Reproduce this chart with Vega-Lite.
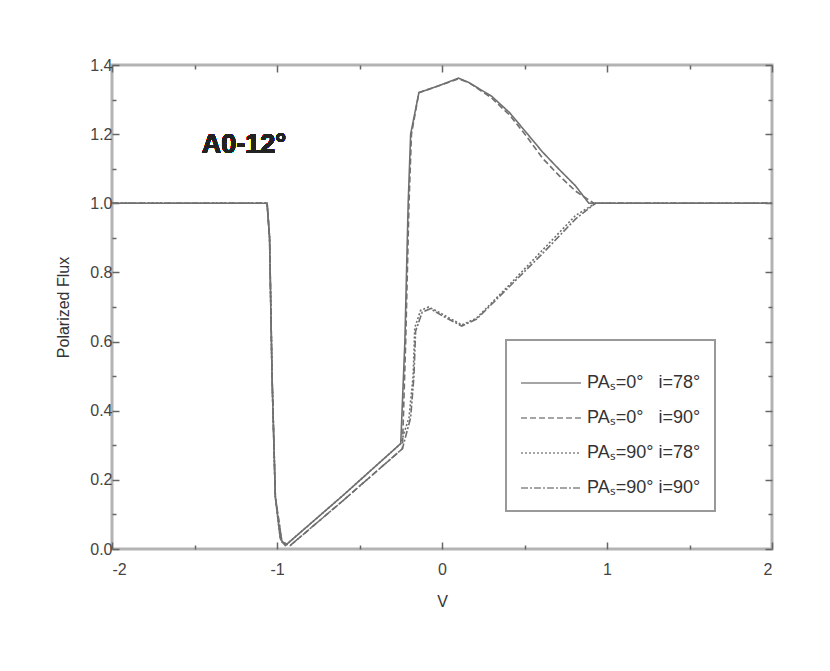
{
  "$schema": "https://vega.github.io/schema/vega-lite/v6.json",
  "autosize": "none",
  "width": 660,
  "height": 484,
  "padding": {"left": 112, "top": 65, "right": 58, "bottom": 122},
  "background": "white",
  "config": {
    "view": {"stroke": "#b3b3b3", "strokeWidth": 3},
    "axis": {"grid": false, "domain": false, "labelFont": "Liberation Sans", "labelFontSize": 16, "labelColor": "#444", "tickColor": "#666", "tickWidth": 1.5, "titleFont": "Liberation Sans", "titleFontSize": 16, "titleFontWeight": "normal", "titleColor": "#333"},
    "legend": {"strokeColor": "#999", "strokeWidth": 2}
  },
  "data": {"values": [
    {"series": "A", "x": -2, "y": 1.0}, {"series": "A", "x": -1.06, "y": 1.0}, {"series": "A", "x": -1.045, "y": 0.9}, {"series": "A", "x": -1.03, "y": 0.5}, {"series": "A", "x": -1.01, "y": 0.15}, {"series": "A", "x": -0.98, "y": 0.03}, {"series": "A", "x": -0.95, "y": 0.01}, {"series": "A", "x": -0.6, "y": 0.155}, {"series": "A", "x": -0.25, "y": 0.305}, {"series": "A", "x": -0.225, "y": 0.6}, {"series": "A", "x": -0.205, "y": 1.0}, {"series": "A", "x": -0.19, "y": 1.2}, {"series": "A", "x": -0.14, "y": 1.32}, {"series": "A", "x": -0.02, "y": 1.34}, {"series": "A", "x": 0.1, "y": 1.362}, {"series": "A", "x": 0.16, "y": 1.35}, {"series": "A", "x": 0.3, "y": 1.31}, {"series": "A", "x": 0.41, "y": 1.262}, {"series": "A", "x": 0.51, "y": 1.205}, {"series": "A", "x": 0.61, "y": 1.148}, {"series": "A", "x": 0.71, "y": 1.098}, {"series": "A", "x": 0.81, "y": 1.05}, {"series": "A", "x": 0.89, "y": 1.0}, {"series": "A", "x": 2, "y": 1.0},
    {"series": "B", "x": -2, "y": 1.0}, {"series": "B", "x": -1.06, "y": 1.0}, {"series": "B", "x": -1.045, "y": 0.9}, {"series": "B", "x": -1.03, "y": 0.5}, {"series": "B", "x": -1.01, "y": 0.15}, {"series": "B", "x": -0.97, "y": 0.02}, {"series": "B", "x": -0.92, "y": 0.01}, {"series": "B", "x": -0.6, "y": 0.14}, {"series": "B", "x": -0.24, "y": 0.29}, {"series": "B", "x": -0.22, "y": 0.6}, {"series": "B", "x": -0.2, "y": 1.0}, {"series": "B", "x": -0.185, "y": 1.2}, {"series": "B", "x": -0.14, "y": 1.32}, {"series": "B", "x": -0.02, "y": 1.34}, {"series": "B", "x": 0.1, "y": 1.36}, {"series": "B", "x": 0.16, "y": 1.35}, {"series": "B", "x": 0.3, "y": 1.305}, {"series": "B", "x": 0.41, "y": 1.255}, {"series": "B", "x": 0.51, "y": 1.195}, {"series": "B", "x": 0.61, "y": 1.13}, {"series": "B", "x": 0.71, "y": 1.08}, {"series": "B", "x": 0.81, "y": 1.035}, {"series": "B", "x": 0.92, "y": 1.0}, {"series": "B", "x": 2, "y": 1.0},
    {"series": "C", "x": -2, "y": 1.0}, {"series": "C", "x": -1.06, "y": 1.0}, {"series": "C", "x": -1.045, "y": 0.9}, {"series": "C", "x": -1.03, "y": 0.5}, {"series": "C", "x": -1.01, "y": 0.15}, {"series": "C", "x": -0.98, "y": 0.03}, {"series": "C", "x": -0.95, "y": 0.01}, {"series": "C", "x": -0.6, "y": 0.155}, {"series": "C", "x": -0.25, "y": 0.305}, {"series": "C", "x": -0.2, "y": 0.38}, {"series": "C", "x": -0.175, "y": 0.5}, {"series": "C", "x": -0.165, "y": 0.64}, {"series": "C", "x": -0.13, "y": 0.69}, {"series": "C", "x": -0.08, "y": 0.7}, {"series": "C", "x": 0.0, "y": 0.68}, {"series": "C", "x": 0.12, "y": 0.648}, {"series": "C", "x": 0.21, "y": 0.668}, {"series": "C", "x": 0.4, "y": 0.76}, {"series": "C", "x": 0.6, "y": 0.86}, {"series": "C", "x": 0.71, "y": 0.915}, {"series": "C", "x": 0.81, "y": 0.965}, {"series": "C", "x": 0.93, "y": 1.0}, {"series": "C", "x": 2, "y": 1.0},
    {"series": "D", "x": -2, "y": 1.0}, {"series": "D", "x": -1.06, "y": 1.0}, {"series": "D", "x": -1.045, "y": 0.9}, {"series": "D", "x": -1.03, "y": 0.5}, {"series": "D", "x": -1.01, "y": 0.15}, {"series": "D", "x": -0.97, "y": 0.02}, {"series": "D", "x": -0.92, "y": 0.01}, {"series": "D", "x": -0.6, "y": 0.14}, {"series": "D", "x": -0.24, "y": 0.29}, {"series": "D", "x": -0.19, "y": 0.38}, {"series": "D", "x": -0.17, "y": 0.5}, {"series": "D", "x": -0.16, "y": 0.63}, {"series": "D", "x": -0.12, "y": 0.685}, {"series": "D", "x": -0.07, "y": 0.695}, {"series": "D", "x": 0.0, "y": 0.675}, {"series": "D", "x": 0.12, "y": 0.645}, {"series": "D", "x": 0.21, "y": 0.665}, {"series": "D", "x": 0.4, "y": 0.755}, {"series": "D", "x": 0.6, "y": 0.85}, {"series": "D", "x": 0.71, "y": 0.905}, {"series": "D", "x": 0.81, "y": 0.955}, {"series": "D", "x": 0.93, "y": 1.0}, {"series": "D", "x": 2, "y": 1.0}
  ]},
  "resolve": {"axis": {"x": "independent", "y": "independent"}},
  "layer": [
    {
      "mark": {"type": "line", "color": "#707070", "strokeWidth": 1.6},
      "encoding": {
        "x": {"field": "x", "type": "quantitative", "scale": {"domain": [-2, 2], "nice": false, "zero": false},
              "axis": {"orient": "bottom", "values": [-2, -1.5, -1, -0.5, 0, 0.5, 1, 1.5, 2],
                       "labelExpr": "abs(round(datum.value*2)) % 2 == 1 ? '' : '' + datum.value",
                       "tickSize": {"condition": {"test": "abs(round(datum.value*2)) % 2 == 1", "value": -4}, "value": -7},
                       "labelPadding": 19, "labelOverlap": false, "title": "V", "titlePadding": 13}},
        "y": {"field": "y", "type": "quantitative", "scale": {"domain": [0, 1.4], "nice": false, "zero": false},
              "axis": {"orient": "left", "values": [0, 0.1, 0.2, 0.3, 0.4, 0.5, 0.6, 0.7, 0.8, 0.9, 1.0, 1.1, 1.2, 1.3, 1.4],
                       "labelExpr": "abs(round(datum.value*10)) % 2 == 1 ? '' : format(datum.value, '.1f')",
                       "tickSize": {"condition": {"test": "abs(round(datum.value*10)) % 2 == 1", "value": -4}, "value": -7},
                       "labelPadding": 7, "labelOverlap": false, "title": "Polarized Flux", "titlePadding": 18}},
        "strokeDash": {"field": "series", "type": "nominal",
          "scale": {"domain": ["A", "B", "C", "D"], "range": [[1, 0], [6, 3], [2, 2], [7, 2, 2, 2]]},
          "legend": {"orient": "none", "legendX": 394, "legendY": 275, "title": " ", "titleFontSize": 12, "titlePadding": 6, "padding": 14,
            "symbolType": "M-1,0H5", "symbolSize": 400, "symbolStrokeColor": "#888", "symbolStrokeWidth": 1.5, "symbolFillColor": "transparent",
            "labelOffset": 45, "rowPadding": 15, "labelFont": "Liberation Sans", "labelFontSize": 18, "labelColor": "#333",
            "labelExpr": "{'A': 'PAₛ=0°\u00a0\u00a0\u00a0i=78°', 'B': 'PAₛ=0°\u00a0\u00a0\u00a0i=90°', 'C': 'PAₛ=90° i=78°', 'D': 'PAₛ=90° i=90°'}[datum.value]"}}
      }
    },
    {
      "mark": {"type": "point", "opacity": 0},
      "encoding": {
        "x": {"field": "x", "type": "quantitative",
              "axis": {"orient": "top", "values": [-2, -1.5, -1, -0.5, 0, 0.5, 1, 1.5, 2], "labels": false,
                       "tickSize": {"condition": {"test": "abs(round(datum.value*2)) % 2 == 1", "value": -4}, "value": -7}, "title": null}},
        "y": {"field": "y", "type": "quantitative",
              "axis": {"orient": "right", "values": [0, 0.1, 0.2, 0.3, 0.4, 0.5, 0.6, 0.7, 0.8, 0.9, 1.0, 1.1, 1.2, 1.3, 1.4], "labels": false,
                       "tickSize": {"condition": {"test": "abs(round(datum.value*10)) % 2 == 1", "value": -4}, "value": -7}, "title": null}}
      }
    },
    {
      "mark": {"type": "text", "font": "Liberation Sans", "fontSize": 27, "fontWeight": "bold", "color": "#222", "align": "center", "baseline": "middle"},
      "encoding": {
        "x": {"datum": -1.2, "type": "quantitative", "axis": null},
        "y": {"datum": 1.17, "type": "quantitative", "axis": null},
        "text": {"value": "A0-12°"}
      }
    }
  ]
}
